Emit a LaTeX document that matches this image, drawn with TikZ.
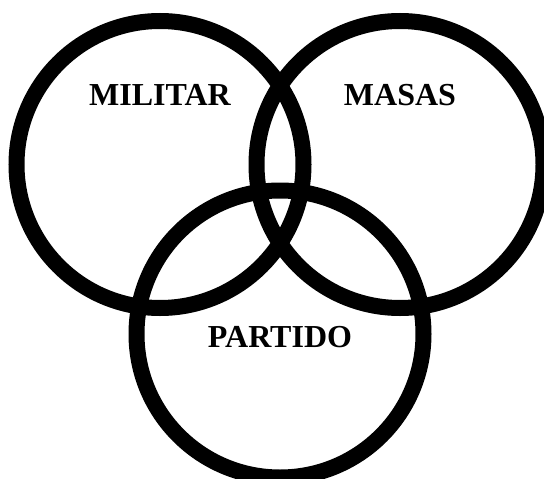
\documentclass[tikz,border=0pt]{standalone}
\usepackage{fontspec}
\setmainfont{Liberation Serif}
\begin{document}
\begin{tikzpicture}[
      x=1pt, y=-1pt,
      kreis/.style={draw, circle, line width=16pt, inner sep=0pt, minimum size=287pt},
      etikett/.style={font=\fontsize{32}{38}\selectfont\bfseries}
    ]
      \useasboundingbox (0,0) rectangle (544,479);
      \node[kreis] (militar) at (160,164.5) {};
      \node[kreis] (masas) at (400,164.5) {};
      \node[kreis] (partido) at (280,334) {};
      \node[etikett] (tmilitar) at (160,95) {MILITAR};
      \node[etikett] (tmasas) at (400,95) {MASAS};
      \node[etikett] (tpartido) at (280,337) {PARTIDO};
    \end{tikzpicture}
\end{document}
